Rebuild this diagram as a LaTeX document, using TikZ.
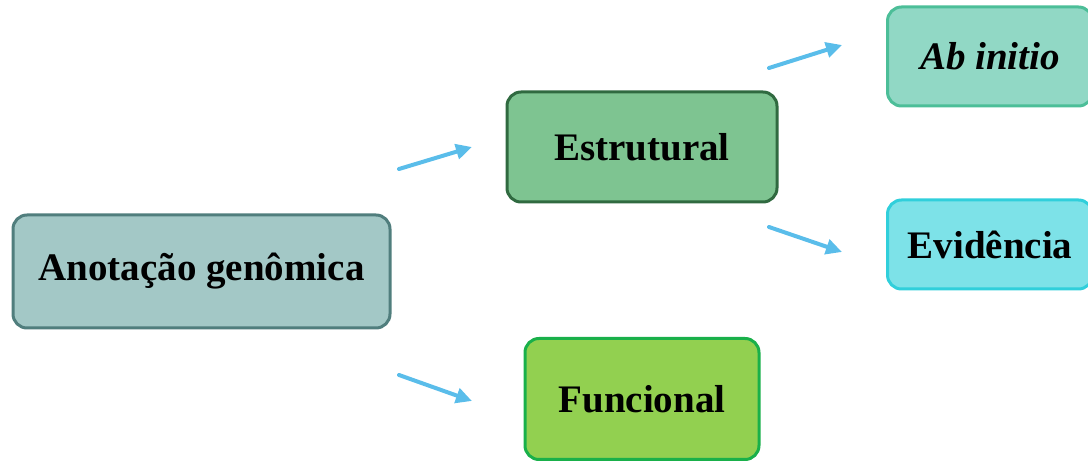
\documentclass[tikz,border=0pt]{standalone}
\usepackage{fontspec}
\setmainfont{Liberation Serif}
\usepackage{tikz}
\usetikzlibrary{arrows.meta}
\definecolor{AnotFill}{RGB}{163,200,198}
\definecolor{AnotLine}{RGB}{80,126,125}
\definecolor{EstrFill}{RGB}{126,196,145}
\definecolor{EstrLine}{RGB}{48,106,64}
\definecolor{AbinFill}{RGB}{145,216,197}
\definecolor{AbinLine}{RGB}{76,190,152}
\definecolor{EvidFill}{RGB}{125,226,232}
\definecolor{EvidLine}{RGB}{48,207,219}
\definecolor{FuncFill}{RGB}{146,208,80}
\definecolor{FuncLine}{RGB}{25,176,74}
\definecolor{ArrowBlue}{RGB}{90,189,234}

\begin{document}
\begin{tikzpicture}[
  x=1pt, y=-1pt,
  box/.style={
    draw,
    rounded corners=14pt,
    line width=3pt,
    align=center,
    inner sep=0pt
  },
  link/.style={-{Triangle[length=16pt,width=15pt]}, ArrowBlue, line width=4pt, line cap=round},
  font=\fontsize{39}{42}\selectfont\bfseries
]
\useasboundingbox (0,0) rectangle (1088,462);
\node[box,fill=AnotFill,draw=AnotLine,minimum width=377pt,minimum height=113pt] (anot) at (201.5,271.5) {Anotação genômica};
\node[box,fill=EstrFill,draw=EstrLine,minimum width=270pt,minimum height=110pt] (estr) at (642,147) {Estrutural};
\node[box,fill=AbinFill,draw=AbinLine,minimum width=205pt,minimum height=99pt] (abin) at (990,56.5) {\itshape Ab initio};
\node[box,fill=EvidFill,draw=EvidLine,minimum width=205pt,minimum height=89pt] (evid) at (990,244.5) {Evidência};
\node[box,fill=FuncFill,draw=FuncLine,minimum width=234pt,minimum height=121pt] (func) at (642,399) {Funcional};

% floating arrows
\coordinate (a1s) at (399,169);
\coordinate (a1e) at (472,147);
\coordinate (a2s) at (399,375);
\coordinate (a2e) at (472,401);
\coordinate (a3s) at (769,68);
\coordinate (a3e) at (842,45);
\coordinate (a4s) at (769,227);
\coordinate (a4e) at (842,252);
\draw[link] (a1s) -- (a1e);
\draw[link] (a2s) -- (a2e);
\draw[link] (a3s) -- (a3e);
\draw[link] (a4s) -- (a4e);
\end{tikzpicture}
\end{document}
